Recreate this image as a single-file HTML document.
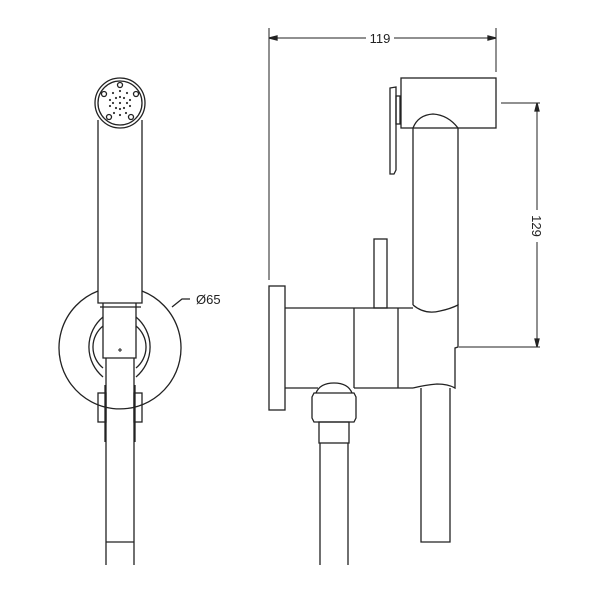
<!DOCTYPE html>
<html><head><style>body{margin:0;background:#fff}svg{display:block}</style></head><body>
<svg width="600" height="600" viewBox="0 0 600 600" xmlns="http://www.w3.org/2000/svg" fill="none" stroke="#222" stroke-width="1.3">
<!-- LEFT VIEW -->
<circle cx="120" cy="103" r="25"/>
<circle cx="120" cy="103" r="22"/>
<g fill="#333" stroke="none">
<circle cx="113" cy="93" r="1.1"/><circle cx="120" cy="91" r="1.1"/><circle cx="127" cy="93" r="1.1"/>
<circle cx="110" cy="100" r="1.1"/><circle cx="116" cy="98" r="1.1"/><circle cx="124" cy="98" r="1.1"/><circle cx="130" cy="100" r="1.1"/>
<circle cx="110" cy="106" r="1.1"/><circle cx="116" cy="108" r="1.1"/><circle cx="124" cy="108" r="1.1"/><circle cx="130" cy="106" r="1.1"/>
<circle cx="114" cy="113" r="1.1"/><circle cx="120" cy="115" r="1.1"/><circle cx="126" cy="113" r="1.1"/>
<circle cx="120" cy="103" r="1.1"/><circle cx="113" cy="103" r="1.1"/><circle cx="127" cy="103" r="1.1"/><circle cx="120" cy="97" r="1.1"/><circle cx="120" cy="109" r="1.1"/>
</g>
<circle cx="120" cy="85" r="2.5"/><circle cx="104" cy="94" r="2.5"/><circle cx="109" cy="117" r="2.5"/><circle cx="131" cy="117" r="2.5"/><circle cx="136" cy="94" r="2.5"/>
<path d="M98 120 V303 H142 V120"/>
<path d="M142 291 A61 61 0 1 1 98 291"/>
<path d="M136 317 A39 39 0 0 1 136 377 M103 317 A39 39 0 0 0 103 377"/>
<path d="M136 326 A27 27 0 0 1 136 368 M103 326 A27 27 0 0 0 103 368"/>
<path d="M103 303 V358 H136 V303"/>
<line x1="100" y1="307" x2="141" y2="307"/>
<path d="M118 350 h4 M120 348 v4" stroke-width="1"/>
<path d="M106 358 V565 M134 358 V565 M106 542 H134"/>
<rect x="98" y="393" width="8" height="29"/><rect x="134" y="393" width="8" height="29"/>
<path d="M105 385 V442 M135 385 V442"/>
<path d="M172 307 L182 299 H190"/>
<text x="196" y="304" font-family="Liberation Sans, sans-serif" font-size="13" fill="#222" stroke="none">Ø65</text>
<!-- RIGHT VIEW -->
<line x1="269" y1="28" x2="269" y2="280" stroke-width="1"/>
<line x1="496" y1="28" x2="496" y2="72" stroke-width="1"/>
<line x1="269" y1="38" x2="366" y2="38" stroke-width="1"/><line x1="394" y1="38" x2="496" y2="38" stroke-width="1"/>
<path d="M269 38 l8 -2 v4 z M496 38 l-8 -2 v4 z" fill="#222"/>
<text x="380" y="43" text-anchor="middle" font-family="Liberation Sans, sans-serif" font-size="13" fill="#222" stroke="none">119</text>
<rect x="401" y="78" width="95" height="50"/>
<path d="M390 88 L396 87 V170 L394 174 H390 Z"/>
<rect x="396" y="96" width="4" height="28"/>
<path d="M413 128 V305 M458 128 V305 M413 128 Q418 115 433 114 Q448 115 458 128"/>
<line x1="501" y1="103" x2="540" y2="103" stroke-width="1"/>
<line x1="459" y1="347" x2="540" y2="347" stroke-width="1"/>
<line x1="537" y1="103" x2="537" y2="210" stroke-width="1"/><line x1="537" y1="242" x2="537" y2="347" stroke-width="1"/>
<path d="M537 103 l-2 8 h4 z M537 347 l-2 -8 h4 z" fill="#222"/>
<text transform="translate(532 226) rotate(90)" text-anchor="middle" font-family="Liberation Sans, sans-serif" font-size="13" fill="#222" stroke="none">129</text>
<rect x="269" y="286" width="16" height="124"/>
<path d="M285 308 H413 M285 388 H318 M354 388 H413"/>
<line x1="354" y1="308" x2="354" y2="388"/><line x1="398" y1="308" x2="398" y2="388"/>
<rect x="374" y="239" width="13" height="69"/>
<path d="M413 305 Q425 315 440 311 Q450 309 458 305 V347 L455 348 V388 Q448 384 437 384 Q425 385 413 388"/>
<path d="M316 393 Q320 383 334 383 Q348 383 352 393"/>
<path d="M314 393 H354 L356 397 V418 L354 422 H314 L312 418 V397 Z"/>
<rect x="319" y="422" width="30" height="21"/>
<path d="M320 443 V565 M348 443 V565"/>
<path d="M421 388 V542 H450 V388"/>
</svg>
</body></html>
